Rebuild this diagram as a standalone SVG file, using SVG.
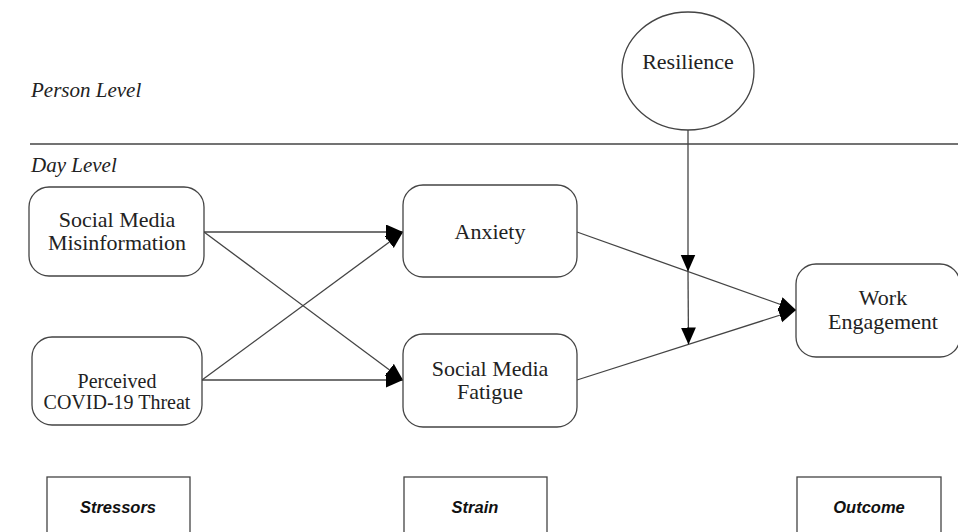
<svg xmlns="http://www.w3.org/2000/svg" width="958" height="532" viewBox="0 0 958 532">
<style>
.node{fill:#fff;stroke:#444;stroke-width:1.3}
.box{fill:#fff;stroke:#444;stroke-width:1.3}
.t{font-family:"Liberation Serif","Times New Roman",serif;font-size:22px;fill:#222;text-anchor:middle}
.ts{font-size:20px}
.lvl{font-family:"Liberation Serif","Times New Roman",serif;font-size:21px;font-style:italic;fill:#222}
.lab{font-family:"Liberation Sans",Arial,sans-serif;font-size:16.5px;font-weight:bold;font-style:italic;fill:#111;text-anchor:middle}
.edge{stroke:#444;stroke-width:1.3;fill:none;marker-end:url(#ah)}
.sep{stroke:#444;stroke-width:1.3}
</style>
<defs>
<marker id="ah" markerUnits="userSpaceOnUse" markerWidth="18" markerHeight="16" refX="17" refY="7.5" orient="auto">
<path d="M0,0 L17,7.5 L0,15 z" fill="#000"/>
</marker>
</defs>
<rect width="958" height="532" fill="#fff"/>
<line class="sep" x1="30" y1="144" x2="958" y2="144"/>
<text class="lvl" x="31" y="97">Person Level</text>
<text class="lvl" x="31" y="172">Day Level</text>

<g id="connectors">
<line class="edge" x1="204" y1="232" x2="403" y2="232"/>
<line class="edge" x1="204" y1="232" x2="403" y2="380"/>
<line class="edge" x1="202" y1="380" x2="403" y2="232"/>
<line class="edge" x1="202" y1="380" x2="403" y2="380"/>
<line class="edge" x1="577" y1="232" x2="796" y2="310"/>
<line class="edge" x1="577" y1="380" x2="796" y2="310"/>
<line class="edge" x1="688" y1="130" x2="688" y2="271.5"/>
<line class="edge" x1="688" y1="271.5" x2="688.5" y2="344.5"/>
</g>

<g id="resilience">
<ellipse class="node" cx="688" cy="71" rx="66" ry="59"/>
<text class="t" x="688" y="69">Resilience</text>
</g>
<g id="smm">
<rect class="node" x="29" y="187" width="175" height="89" rx="20"/>
<text class="t" x="117" y="227">Social Media</text>
<text class="t" x="117" y="250">Misinformation</text>
</g>
<g id="pct">
<rect class="node" x="32" y="337" width="170" height="88" rx="20"/>
<text class="t ts" x="117" y="388">Perceived</text>
<text class="t ts" x="117" y="409">COVID-19 Threat</text>
</g>
<g id="anxiety">
<rect class="node" x="403" y="185" width="174" height="92" rx="20"/>
<text class="t" x="490" y="239">Anxiety</text>
</g>
<g id="fatigue">
<rect class="node" x="403" y="334" width="174" height="93" rx="20"/>
<text class="t" x="490" y="376">Social Media</text>
<text class="t" x="490" y="399">Fatigue</text>
</g>
<g id="engagement">
<rect class="node" x="796" y="264" width="164" height="93" rx="20"/>
<text class="t" x="883" y="305">Work</text>
<text class="t" x="883" y="329">Engagement</text>
</g>
<g id="stressors">
<rect class="box" x="47" y="477" width="143" height="80"/>
<text class="lab" x="118" y="513">Stressors</text>
</g>
<g id="strain">
<rect class="box" x="404" y="477" width="143" height="80"/>
<text class="lab" x="475" y="513">Strain</text>
</g>
<g id="outcome">
<rect class="box" x="797" y="477" width="144" height="80"/>
<text class="lab" x="869" y="513">Outcome</text>
</g>
</svg>
